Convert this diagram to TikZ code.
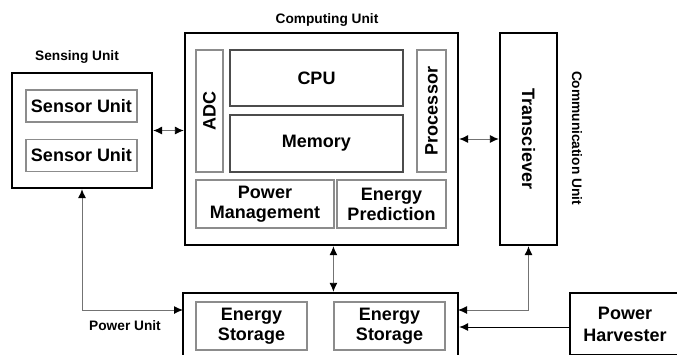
\documentclass[tikz,border=0pt]{standalone}
\usepackage{fontspec}
\setmainfont{Liberation Sans}
\usepackage{tikz}
\usetikzlibrary{arrows.meta}

\tikzset{
    unitbox/.style={draw=black, line width=2.4pt, inner sep=0pt},
    partbox/.style={draw=black!45, line width=1.2pt, inner sep=0pt, align=center, font=\fontsize{18}{20}\selectfont\bfseries},
    unitlabel/.style={font=\fontsize{13.7}{15}\selectfont\bfseries},
    wire/.style={draw=black!55, line width=0.9pt, {Latex[length=9pt,width=8pt,black]}-{Latex[length=9pt,width=8pt,black]}},
    feed/.style={draw=black, line width=0.9pt, -{Latex[length=9pt,width=8pt,black]}}
}

\begin{document}
\begin{tikzpicture}[x=1pt, y=-1pt]
    \useasboundingbox (0,0) rectangle (677,354);
    \clip (0,0) rectangle (677,354);
    	% Units:
    	\node[unitbox, minimum width=140, minimum height=115](sensing) at (82, 130.5){};
    	\node[unitbox, minimum width=273, minimum height=212](computing) at (321.5, 139){};
    	\node[unitbox, minimum width=57, minimum height=212](transceiver) at (528.5, 139){};
    	\node[unitbox, minimum width=275, minimum height=66](power) at (320.5, 326){};
    	\node[unitbox, minimum width=110, minimum height=62, align=center, font=\fontsize{18}{22}\selectfont\bfseries](harvester) at (625, 324){Power\\Harvester};
    	\node[rotate=-90, font=\fontsize{18}{20}\selectfont\bfseries] at (transceiver.center){Transciever};
    	% Parts:
    	\node[partbox, minimum width=111, minimum height=32](sensorA) at (81.5, 106){Sensor Unit};
    	\node[partbox, minimum width=111, minimum height=32](sensorB) at (81.5, 155.5){Sensor Unit};
    	\node[partbox, minimum width=27, minimum height=122](adc) at (209.5, 111){};
    	\node[rotate=90, font=\fontsize{18}{20}\selectfont\bfseries] at (adc.center){ADC};
    	\node[partbox, draw=black!70, minimum width=173, minimum height=56](cpu) at (316.5, 78){CPU};
    	\node[partbox, draw=black!70, minimum width=173, minimum height=57](memory) at (316.5, 143.5){Memory};
    	\node[partbox, minimum width=29, minimum height=122](processor) at (431.5, 111){};
    	\node[rotate=90, font=\fontsize{18}{20}\selectfont\bfseries] at (processor.center){Processor};
    	\node[partbox, minimum width=138, minimum height=48](powermgmt) at (265, 204){Power\\Management};
    	\node[partbox, minimum width=109, minimum height=48](energypred) at (391.5, 204){Energy\\Prediction};
    	\node[partbox, minimum width=111, minimum height=48](storageA) at (251.5, 326){Energy\\Storage};
    	\node[partbox, minimum width=111, minimum height=48](storageB) at (389.5, 326){Energy\\Storage};
    	% Labels:
    	\node[unitlabel] at (77, 57){Sensing Unit};
    	\node[unitlabel] at (327, 20){Computing Unit};
    	\node[unitlabel, rotate=-90] at (577, 138){Communication Unit};
    	\node[unitlabel] at (125, 326){Power Unit};
    	% Wires:
    	\coordinate (pinL) at (183, 310);
    	\coordinate (pinR) at (458, 310);
    	\draw[wire] (sensing.east) -- (sensing.east -| computing.west);
    	\draw[wire] (computing.east) -- (computing.east -| transceiver.west);
    	\draw[wire] (computing.south -| storageB.west) -- (power.north -| storageB.west);
    	\draw[wire] (sensing.south) |- (pinL);
    	\draw[wire] (transceiver.south) |- (pinR);
    	\draw[feed] (harvester.west |- 0,327) -- (power.east |- 0,327);
    \end{tikzpicture}
\end{document}
